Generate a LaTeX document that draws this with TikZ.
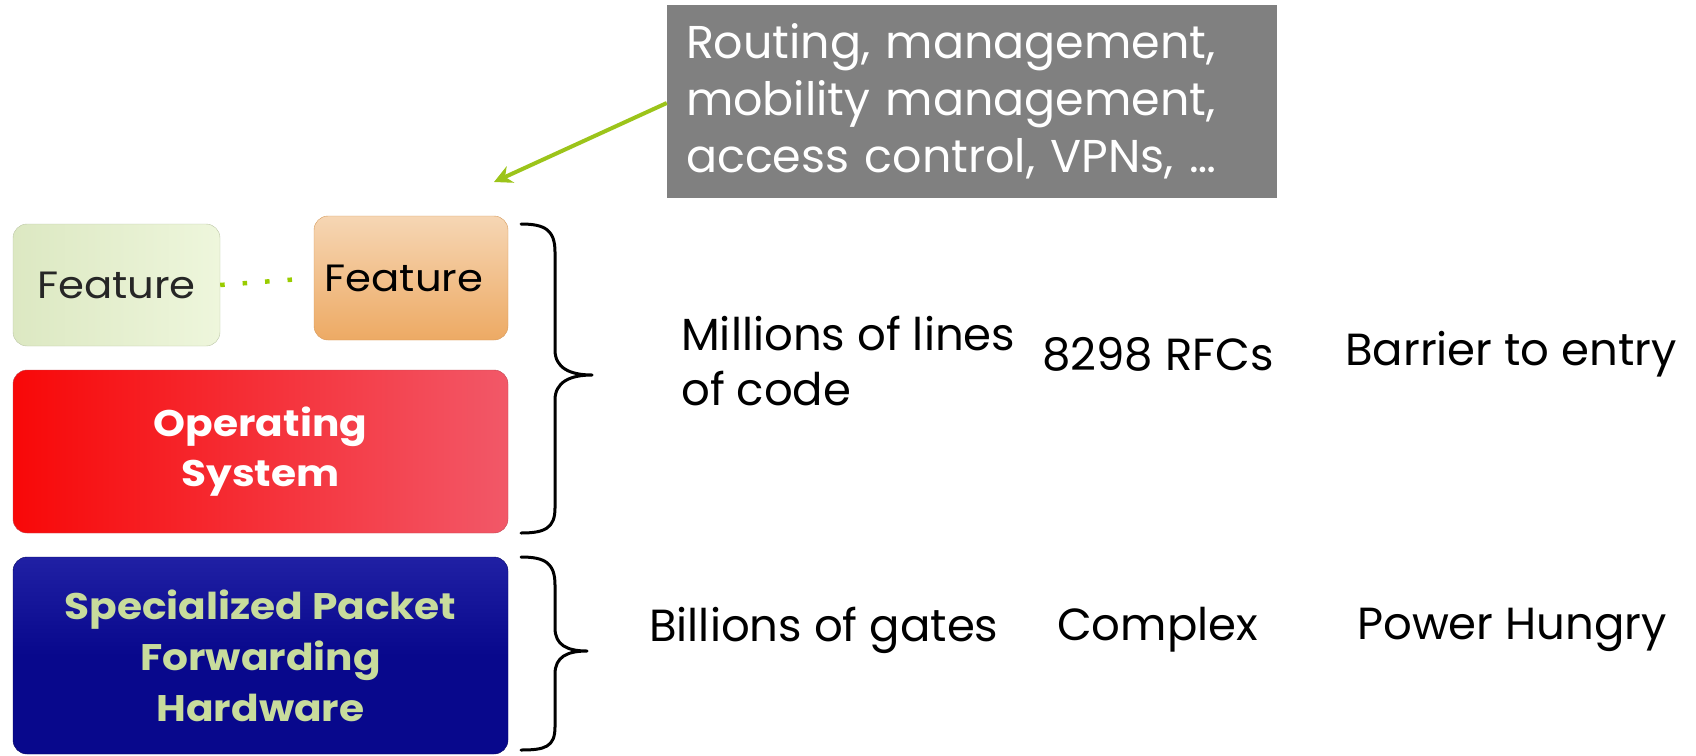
\documentclass[tikz,border=0pt]{standalone}
\usepackage{fontspec}
\setmainfont{Poppins}
\newfontfamily\widefont[FakeStretch=1.1]{Poppins}
\usetikzlibrary{arrows.meta}
\definecolor{grayb}{HTML}{808080}
\definecolor{arrowg}{HTML}{9CC41A}
\definecolor{hwtext}{HTML}{C8DC9C}
\definecolor{navy}{HTML}{08088C}
\definecolor{navytop}{HTML}{2020A4}
\definecolor{grnA}{HTML}{DCE8C2}
\definecolor{grnB}{HTML}{EEF6DC}
\definecolor{orA}{HTML}{F6D6B4}
\definecolor{orB}{HTML}{EDAA64}
\definecolor{redA}{HTML}{F80808}
\definecolor{redB}{HTML}{F25868}
\definecolor{dotg}{HTML}{99CC00}
\tikzset{
  box/.style={rounded corners=14pt, inner sep=0pt, align=center},
  bigtxt/.style={font=\fontsize{45}{55}\selectfont, align=left, inner sep=0pt, anchor=west},
  bracepath/.style={line width=3pt, line join=round, line cap=round},
}
\begin{document}
\begin{tikzpicture}[x=1pt,y=-1pt]
\useasboundingbox (0,0) rectangle (1696,755);
% feature boxes
\node[box, minimum width=207pt, minimum height=122pt, left color=grnA, right color=grnB, draw=grnA!85!black,
      font=\widefont\fontsize{38}{40}\selectfont, text=black!85] (f1) at (116.5,285) {Feature};
\node[box, minimum width=194pt, minimum height=124pt, top color=orA, bottom color=orB, draw=orB!90!black,
      font=\widefont\fontsize{38}{40}\selectfont, text=black] (f2) at (411,278) {\hspace*{-14pt}Feature};
\draw[dotg, line width=4.5pt, dash pattern=on 4.5pt off 18pt, shorten >=16pt] (f1.east) -- (f2.west);
% OS box
\node[box, minimum width=495pt, minimum height=163pt, left color=redA, right color=redB, draw=redB!80!black,
      font=\widefont\bfseries\fontsize{37}{50}\selectfont, text=white] (os) at (260.5,451.5) {Operating\\System};
% HW box
\node[box, minimum width=495pt, minimum height=197pt, top color=navytop, bottom color=navy, middle color=navy, draw=navy!70!black,
      font=\widefont\bfseries\fontsize{37}{51}\selectfont, text=hwtext] (hw) at (260.5,655.5) {Specialized Packet\\Forwarding\\Hardware};
% braces
\draw[bracepath] (521,224) .. controls (545,224) and (555,230) .. (555,252) -- (555,350)
   .. controls (555,368) and (570,375) .. (592,375) .. controls (570,375) and (555,382) .. (555,400)
   -- (555,508) .. controls (555,528) and (545,533) .. (521,533);
\draw[bracepath] (521,557) .. controls (545,557) and (555,563) .. (555,585) -- (555,628)
   .. controls (555,645) and (567,651) .. (587,651) .. controls (567,651) and (555,657) .. (555,674)
   -- (555,727) .. controls (555,747) and (545,750) .. (521,750);
% gray callout
\node[fill=grayb, text=white, minimum width=610pt, minimum height=193pt, inner sep=0pt,
      font=\fontsize{46}{57}\selectfont, align=left, text width=572pt] (call) at (972,101.5)
      {Routing, management,\\mobility management,\\access control, VPNs, \dots};
\coordinate (tgt) at (494,182);
\draw[arrowg, line width=4pt, -{Stealth[length=18pt,width=18pt]}] (call.west |- 0,103) -- (tgt);
% texts
\node[bigtxt] (t1) at (681,361) {Millions of lines\\of code};
\node[bigtxt] (t2) at (1042,354) {8298 RFCs};
\node[bigtxt] (t3) at (1345,354) {Barrier to entry};
\node[bigtxt] (t4) at (649,630) {Billions of gates};
\node[bigtxt] (t5) at (1057,630) {Complex};
\node[bigtxt] (t6) at (1357,630) {Power Hungry};
\end{tikzpicture}
\end{document}
